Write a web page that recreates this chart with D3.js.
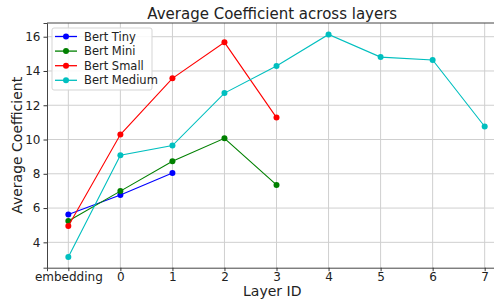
<!DOCTYPE html>
<html><head><meta charset="utf-8">
<script src="https://cdn.jsdelivr.net/npm/d3@7"></script>
<style>body{margin:0;background:#fff}svg{display:block}text{font-family:"DejaVu Sans",sans-serif;fill:#222}</style>
</head><body><svg id="c" width="494" height="300"></svg>
<script>
const layers = ["embedding","0","1","2","3","4","5","6","7"];
const layerPos = [-1,0,1,2,3,4,5,6,7];
const bertTiny = [5.63, 6.76, 8.04];
const bertMini = [5.24, 6.99, 8.73, 10.07, 7.35];
const bertSmall = [4.95, 10.29, 13.57, 15.67, 11.28];
const bertMedium = [3.14, 9.08, 9.65, 12.71, 14.29, 16.13, 14.81, 14.64, 10.76];
const seriesNames = ["Bert Tiny","Bert Mini","Bert Small","Bert Medium"];
const seriesColors = ["#0000ff","#008000","#ff0000","#00bfbf"];
const yTicks = [4,6,8,10,12,14,16];

const series = [bertTiny, bertMini, bertSmall, bertMedium].map((v,i)=>({name:seriesNames[i], color:seriesColors[i], values:v.map((y,j)=>({x:layerPos[j], y}))}));

const svg = d3.select("#c");
const L=47, T=23, B=267.7, R=505.5;
const x = d3.scaleLinear().domain([-1.41,7.4]).range([L,R]);
const y = d3.scaleLinear().domain([2.52,16.8]).range([B,T]);

// grid
svg.append("g").selectAll("line").data(layerPos).join("line")
 .attr("x1",d=>x(d)).attr("x2",d=>x(d)).attr("y1",T).attr("y2",B)
 .attr("stroke","#cfcfcf").attr("stroke-width",1);
svg.append("g").selectAll("line").data(yTicks).join("line")
 .attr("x1",L).attr("x2",494).attr("y1",d=>y(d)).attr("y2",d=>y(d))
 .attr("stroke","#cfcfcf").attr("stroke-width",1);

// axes
const xa = svg.append("g").attr("transform",`translate(0,${B})`)
 .call(d3.axisBottom(x).tickValues(layerPos).tickFormat((d,i)=>layers[i]).tickSize(3.5).tickPadding(1.5));
const ya = svg.append("g").attr("transform",`translate(${L},0)`)
 .call(d3.axisLeft(y).tickValues(yTicks).tickSize(3.5).tickPadding(3));
[xa,ya].forEach(a=>{a.selectAll("text").attr("font-size",12).attr("fill","#222").style("font-family","DejaVu Sans");
 a.selectAll("line").attr("stroke","#333"); a.select(".domain").attr("stroke","#444").attr("stroke-width",1);});
svg.append("line").attr("x1",L).attr("x2",494).attr("y1",T).attr("y2",T).attr("stroke","#444");

// lines
const line = d3.line().x(d=>x(d.x)).y(d=>y(d.y));
series.forEach(s=>{
 svg.append("path").datum(s.values).attr("d",line).attr("fill","none").attr("stroke",s.color).attr("stroke-width",1.1);
 svg.append("g").selectAll("circle").data(s.values).join("circle")
  .attr("cx",d=>x(d.x)).attr("cy",d=>y(d.y)).attr("r",3).attr("fill",s.color);
});

// legend
const lg = svg.append("g").attr("transform","translate(52,28)");
lg.append("rect").attr("width",100).attr("height",62).attr("rx",2).attr("fill","#fff").attr("fill-opacity",0.85).attr("stroke","#d5d5d5");
series.forEach((s,i)=>{
 const yy = 8.5+i*14.6;
 lg.append("line").attr("x1",3).attr("x2",25).attr("y1",yy).attr("y2",yy).attr("stroke",s.color).attr("stroke-width",1.3);
 lg.append("circle").attr("cx",14).attr("cy",yy).attr("r",3).attr("fill",s.color);
 lg.append("text").attr("x",32).attr("y",yy).attr("dy","0.35em").attr("font-size",11.5).text(s.name);
});

// titles
svg.append("text").attr("x",(L+R)/2-4).attr("y",19).attr("text-anchor","middle").attr("font-size",15).text("Average Coefficient across layers");
svg.append("text").attr("x",(L+R)/2-4).attr("y",296).attr("text-anchor","middle").attr("font-size",14).text("Layer ID");
svg.append("text").attr("transform",`translate(22,${(T+B)/2}) rotate(-90)`).attr("text-anchor","middle").attr("font-size",14).text("Average Coefficient");
</script></body></html>
